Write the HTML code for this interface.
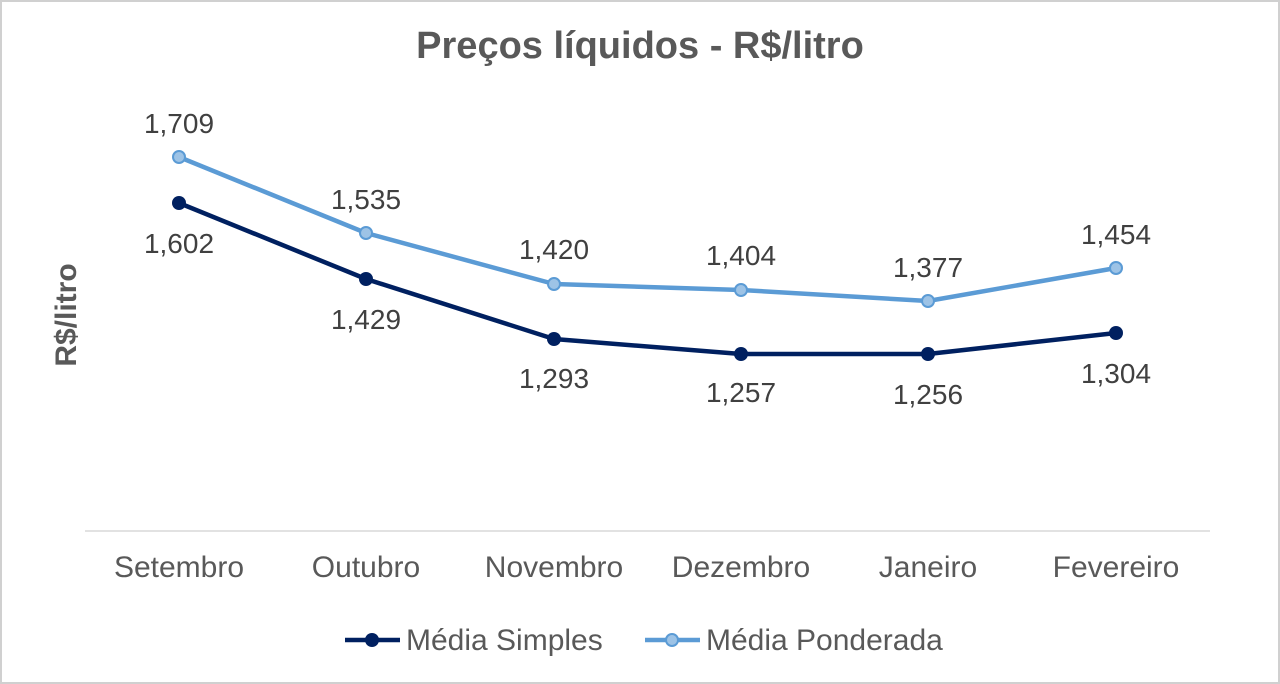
<!DOCTYPE html>
<html><head><meta charset="utf-8"><style>
html,body{margin:0;padding:0;background:#fff;}
svg{display:block;}
text{font-family:"Liberation Sans",Arial,sans-serif;}
</style></head><body>
<svg width="1280" height="684" viewBox="0 0 1280 684">
<rect x="1" y="1" width="1278" height="682" fill="#fff" stroke="#d0d0d0" stroke-width="2"/>
<text x="640" y="58" text-anchor="middle" font-size="38" font-weight="bold" fill="#595959">Preços líquidos - R$/litro</text>
<text transform="translate(76,315) rotate(-90)" text-anchor="middle" font-size="30" font-weight="bold" fill="#595959">R$/litro</text>
<line x1="85" y1="531" x2="1210" y2="531" stroke="#d9d9d9" stroke-width="1.5"/>
<g font-size="30" fill="#595959" text-anchor="middle">
<text x="179" y="577">Setembro</text><text x="366" y="577">Outubro</text><text x="554" y="577">Novembro</text><text x="741" y="577">Dezembro</text><text x="928" y="577">Janeiro</text><text x="1116" y="577">Fevereiro</text>
</g>
<polyline points="179,157 366,233 554,284 741,290 928,301 1116,268" fill="none" stroke="#5b9bd5" stroke-width="4.5" stroke-linejoin="round"/>
<polyline points="179,203 366,279 554,339 741,354 928,354 1116,333" fill="none" stroke="#002060" stroke-width="4.5" stroke-linejoin="round"/>
<g fill="#9dc3e6" stroke="#5b9bd5" stroke-width="2">
<circle cx="179" cy="157" r="6"/><circle cx="366" cy="233" r="6"/><circle cx="554" cy="284" r="6"/><circle cx="741" cy="290" r="6"/><circle cx="928" cy="301" r="6"/><circle cx="1116" cy="268" r="6"/>
</g>
<g fill="#002060">
<circle cx="179" cy="203" r="7"/><circle cx="366" cy="279" r="7"/><circle cx="554" cy="339" r="7"/><circle cx="741" cy="354" r="7"/><circle cx="928" cy="354" r="7"/><circle cx="1116" cy="333" r="7"/>
</g>
<g font-size="28" fill="#404040" text-anchor="middle">
<text x="179" y="133">1,709</text><text x="366" y="209">1,535</text><text x="554" y="259">1,420</text><text x="741" y="265">1,404</text><text x="928" y="277">1,377</text><text x="1116" y="244">1,454</text>
<text x="179" y="253">1,602</text><text x="366" y="329">1,429</text><text x="554" y="388">1,293</text><text x="741" y="402">1,257</text><text x="928" y="404">1,256</text><text x="1116" y="383">1,304</text>
</g>
<line x1="345" y1="640" x2="400" y2="640" stroke="#002060" stroke-width="4.5"/>
<circle cx="372" cy="640" r="7" fill="#002060"/>
<text x="406" y="650" font-size="30" fill="#595959">Média Simples</text>
<line x1="645" y1="640" x2="700" y2="640" stroke="#5b9bd5" stroke-width="4.5"/>
<circle cx="672" cy="640" r="6" fill="#9dc3e6" stroke="#5b9bd5" stroke-width="2"/>
<text x="706" y="650" font-size="30" fill="#595959">Média Ponderada</text>
</svg>
</body></html>
